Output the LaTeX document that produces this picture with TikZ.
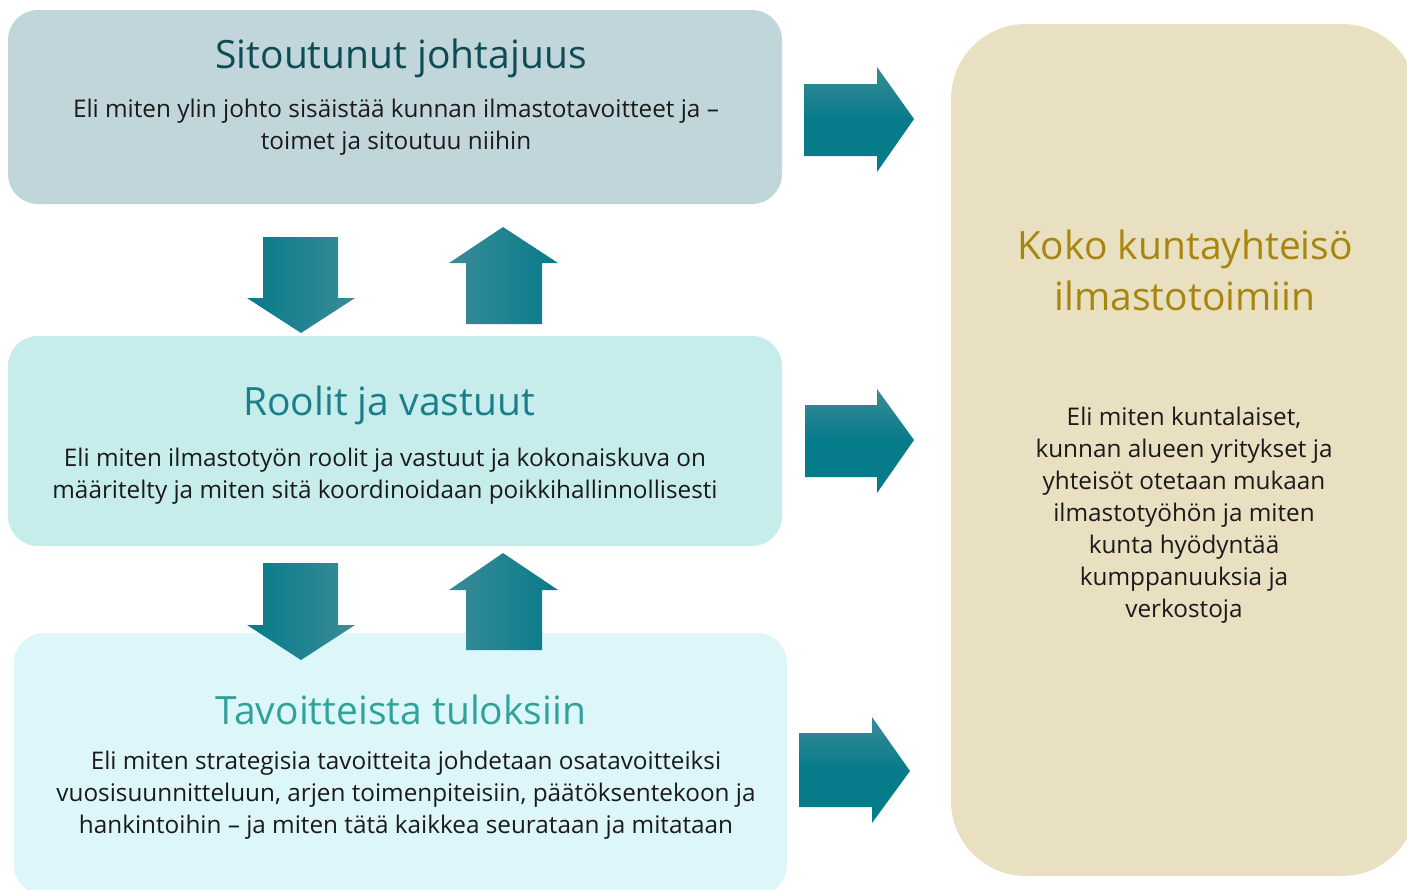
\documentclass[tikz,border=0pt]{standalone}
\usepackage{fontspec}
\setmainfont{Open Sans}
\definecolor{boxA}{HTML}{C1D6DB}
\definecolor{boxB}{HTML}{C6EDEC}
\definecolor{boxC}{HTML}{DDF6FA}
\definecolor{boxD}{HTML}{E9E0C2}
\definecolor{titA}{HTML}{0F4B55}
\definecolor{titB}{HTML}{1A7F8A}
\definecolor{titC}{HTML}{2FA39A}
\definecolor{titD}{HTML}{A8860E}
\definecolor{bodytxt}{HTML}{1A1A1A}
\definecolor{arrDark}{HTML}{067B8A}
\definecolor{arrLight}{HTML}{3B8B97}
\tikzset{
  panel/.style={rectangle, rounded corners=30pt, draw=none, inner sep=0pt},
  ttl/.style={anchor=base, inner sep=0pt, font=\fontsize{39}{44}\selectfont},
  bodyline/.style={anchor=base, inner sep=0pt, text=bodytxt, font=\fontsize{24.3}{32}\selectfont},
  rarrow/.style={top color=arrLight, bottom color=arrDark, middle color=arrDark, draw=none},
  darrow/.style={left color=arrDark, right color=arrLight, draw=none},
  uarrow/.style={left color=arrLight, right color=arrDark, draw=none}
}
\begin{document}
\begin{tikzpicture}[x=1pt,y=-1pt]
\useasboundingbox (0,0) rectangle (1407,889);
\clip (0,0) rectangle (1407,889);
% panels
\node[panel, fill=boxA, minimum width=774pt, minimum height=194pt] (pA) at (395,107) {};
\node[panel, fill=boxB, minimum width=774pt, minimum height=210pt] (pB) at (395,441) {};
\node[panel, fill=boxC, minimum width=773pt, minimum height=262pt] (pC) at (400.5,764) {};
\node[panel, fill=boxD, rounded corners=75pt, minimum width=466pt, minimum height=852pt] (pD) at (1184,450) {};
% texts A
\node[ttl, text=titA] (tA) at (401,68) {Sitoutunut johtajuus};
\node[bodyline] (bA1) at (396,117) {Eli miten ylin johto sisäistää kunnan ilmastotavoitteet ja –};
\node[bodyline] (bA2) at (396,149) {toimet ja sitoutuu niihin};
% texts B
\node[ttl, text=titB] (tB) at (389,415) {Roolit ja vastuut};
\node[bodyline] (bB1) at (385,466) {Eli miten ilmastotyön roolit ja vastuut ja kokonaiskuva on};
\node[bodyline] (bB2) at (385,498) {määritelty ja miten sitä koordinoidaan poikkihallinnollisesti};
% texts C
\node[ttl, text=titC] (tC) at (401,724) {Tavoitteista tuloksiin};
\node[bodyline] (bC1) at (406,769) {Eli miten strategisia tavoitteita johdetaan osatavoitteiksi};
\node[bodyline] (bC2) at (406,801) {vuosisuunnitteluun, arjen toimenpiteisiin, päätöksentekoon ja};
\node[bodyline] (bC3) at (406,833) {hankintoihin – ja miten tätä kaikkea seurataan ja mitataan};
% texts D
\node[ttl, text=titD] (tD1) at (1185,259) {Koko kuntayhteisö};
\node[ttl, text=titD] (tD2) at (1185,310) {ilmastotoimiin};
\node[bodyline] (bD1) at (1184,425) {Eli miten kuntalaiset,};
\node[bodyline] (bD2) at (1184,457) {kunnan alueen yritykset ja};
\node[bodyline] (bD3) at (1184,489) {yhteisöt otetaan mukaan};
\node[bodyline] (bD4) at (1184,521) {ilmastotyöhön ja miten};
\node[bodyline] (bD5) at (1184,553) {kunta hyödyntää};
\node[bodyline] (bD6) at (1184,585) {kumppanuuksia ja};
\node[bodyline] (bD7) at (1184,617) {verkostoja};
% right arrows
\shade[rarrow] (804,84) -- (877,84) -- (877,67) -- (914,119) -- (877,172) -- (877,156) -- (804,156) -- cycle;
\shade[rarrow] (805,405) -- (877,405) -- (877,389) -- (914,440) -- (877,493) -- (877,477) -- (805,477) -- cycle;
\shade[rarrow] (799,733) -- (872,733) -- (872,717) -- (910,771) -- (872,823) -- (872,807) -- (799,807) -- cycle;
% down arrows
\shade[darrow] (263,237) -- (338,237) -- (338,298) -- (355,298) -- (301,333) -- (247,298) -- (263,298) -- cycle;
\shade[darrow] (263,563) -- (338,563) -- (338,625) -- (355,625) -- (301,660) -- (247,625) -- (263,625) -- cycle;
% up arrows
\shade[uarrow] (466,324) -- (466,263) -- (449,263) -- (503,227) -- (558,263) -- (542,263) -- (542,324) -- cycle;
\shade[uarrow] (466,650) -- (466,590) -- (449,590) -- (503,553) -- (558,590) -- (542,590) -- (542,650) -- cycle;
\end{tikzpicture}
\end{document}
